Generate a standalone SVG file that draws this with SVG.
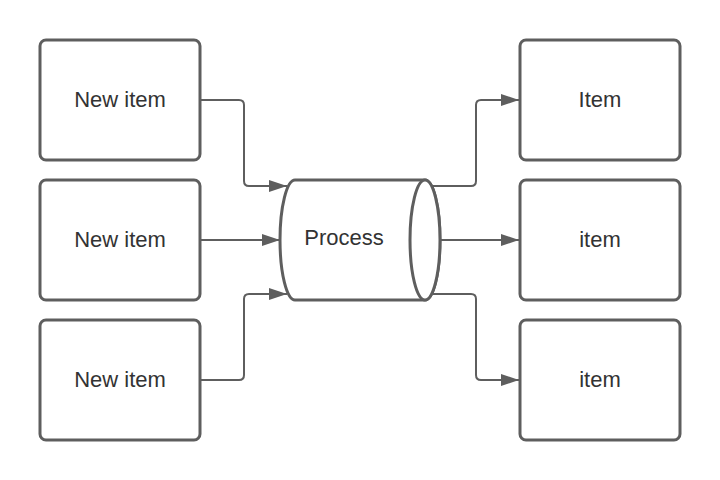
<svg xmlns="http://www.w3.org/2000/svg" width="720" height="480" viewBox="0 0 720 480">
<style>
.box{fill:#fff;stroke:#5e5e5e;stroke-width:3}
.lbl{font-family:"Liberation Sans",Arial,sans-serif;font-size:22px;fill:#333;text-anchor:middle;dominant-baseline:central}
.con{fill:none;stroke:#5e5e5e;stroke-width:2}
</style>
<defs>
<marker id="arr" markerWidth="18" markerHeight="14" refX="18" refY="7" orient="auto" markerUnits="userSpaceOnUse">
<path d="M0,1 L18,7 L0,13 Z" fill="#5e5e5e"/>
</marker>
</defs>
<rect width="720" height="480" fill="#fff"/>
<g id="connectors">
<path class="con" d="M201,100 H239 Q244,100 244,105 V181 Q244,186 249,186 H287" marker-end="url(#arr)"/>
<path class="con" d="M201,240 H280" marker-end="url(#arr)"/>
<path class="con" d="M201,380 H239 Q244,380 244,375 V299 Q244,294 249,294 H287" marker-end="url(#arr)"/>
<path class="con" d="M433,186 H471 Q476,186 476,181 V105 Q476,100 481,100 H519" marker-end="url(#arr)"/>
<path class="con" d="M441,240 H519" marker-end="url(#arr)"/>
<path class="con" d="M433,294 H471 Q476,294 476,299 V375 Q476,380 481,380 H519" marker-end="url(#arr)"/>
</g>
<g id="n1"><rect class="box" x="40" y="40" width="160" height="120" rx="6"/><text class="lbl" x="120" y="99">New item</text></g>
<g id="n2"><rect class="box" x="40" y="180" width="160" height="120" rx="6"/><text class="lbl" x="120" y="239">New item</text></g>
<g id="n3"><rect class="box" x="40" y="320" width="160" height="120" rx="6"/><text class="lbl" x="120" y="379">New item</text></g>
<g id="process">
<path class="box" d="M295,180 H425 A15,60 0 0 1 425,300 H295 A15,60 0 0 1 295,180 Z"/>
<ellipse class="box" cx="425" cy="240" rx="15" ry="60" fill="none"/>
<text class="lbl" x="344" y="237">Process</text>
</g>
<g id="o1"><rect class="box" x="520" y="40" width="160" height="120" rx="6"/><text class="lbl" x="600" y="99">Item</text></g>
<g id="o2"><rect class="box" x="520" y="180" width="160" height="120" rx="6"/><text class="lbl" x="600" y="239">item</text></g>
<g id="o3"><rect class="box" x="520" y="320" width="160" height="120" rx="6"/><text class="lbl" x="600" y="379">item</text></g>
</svg>
